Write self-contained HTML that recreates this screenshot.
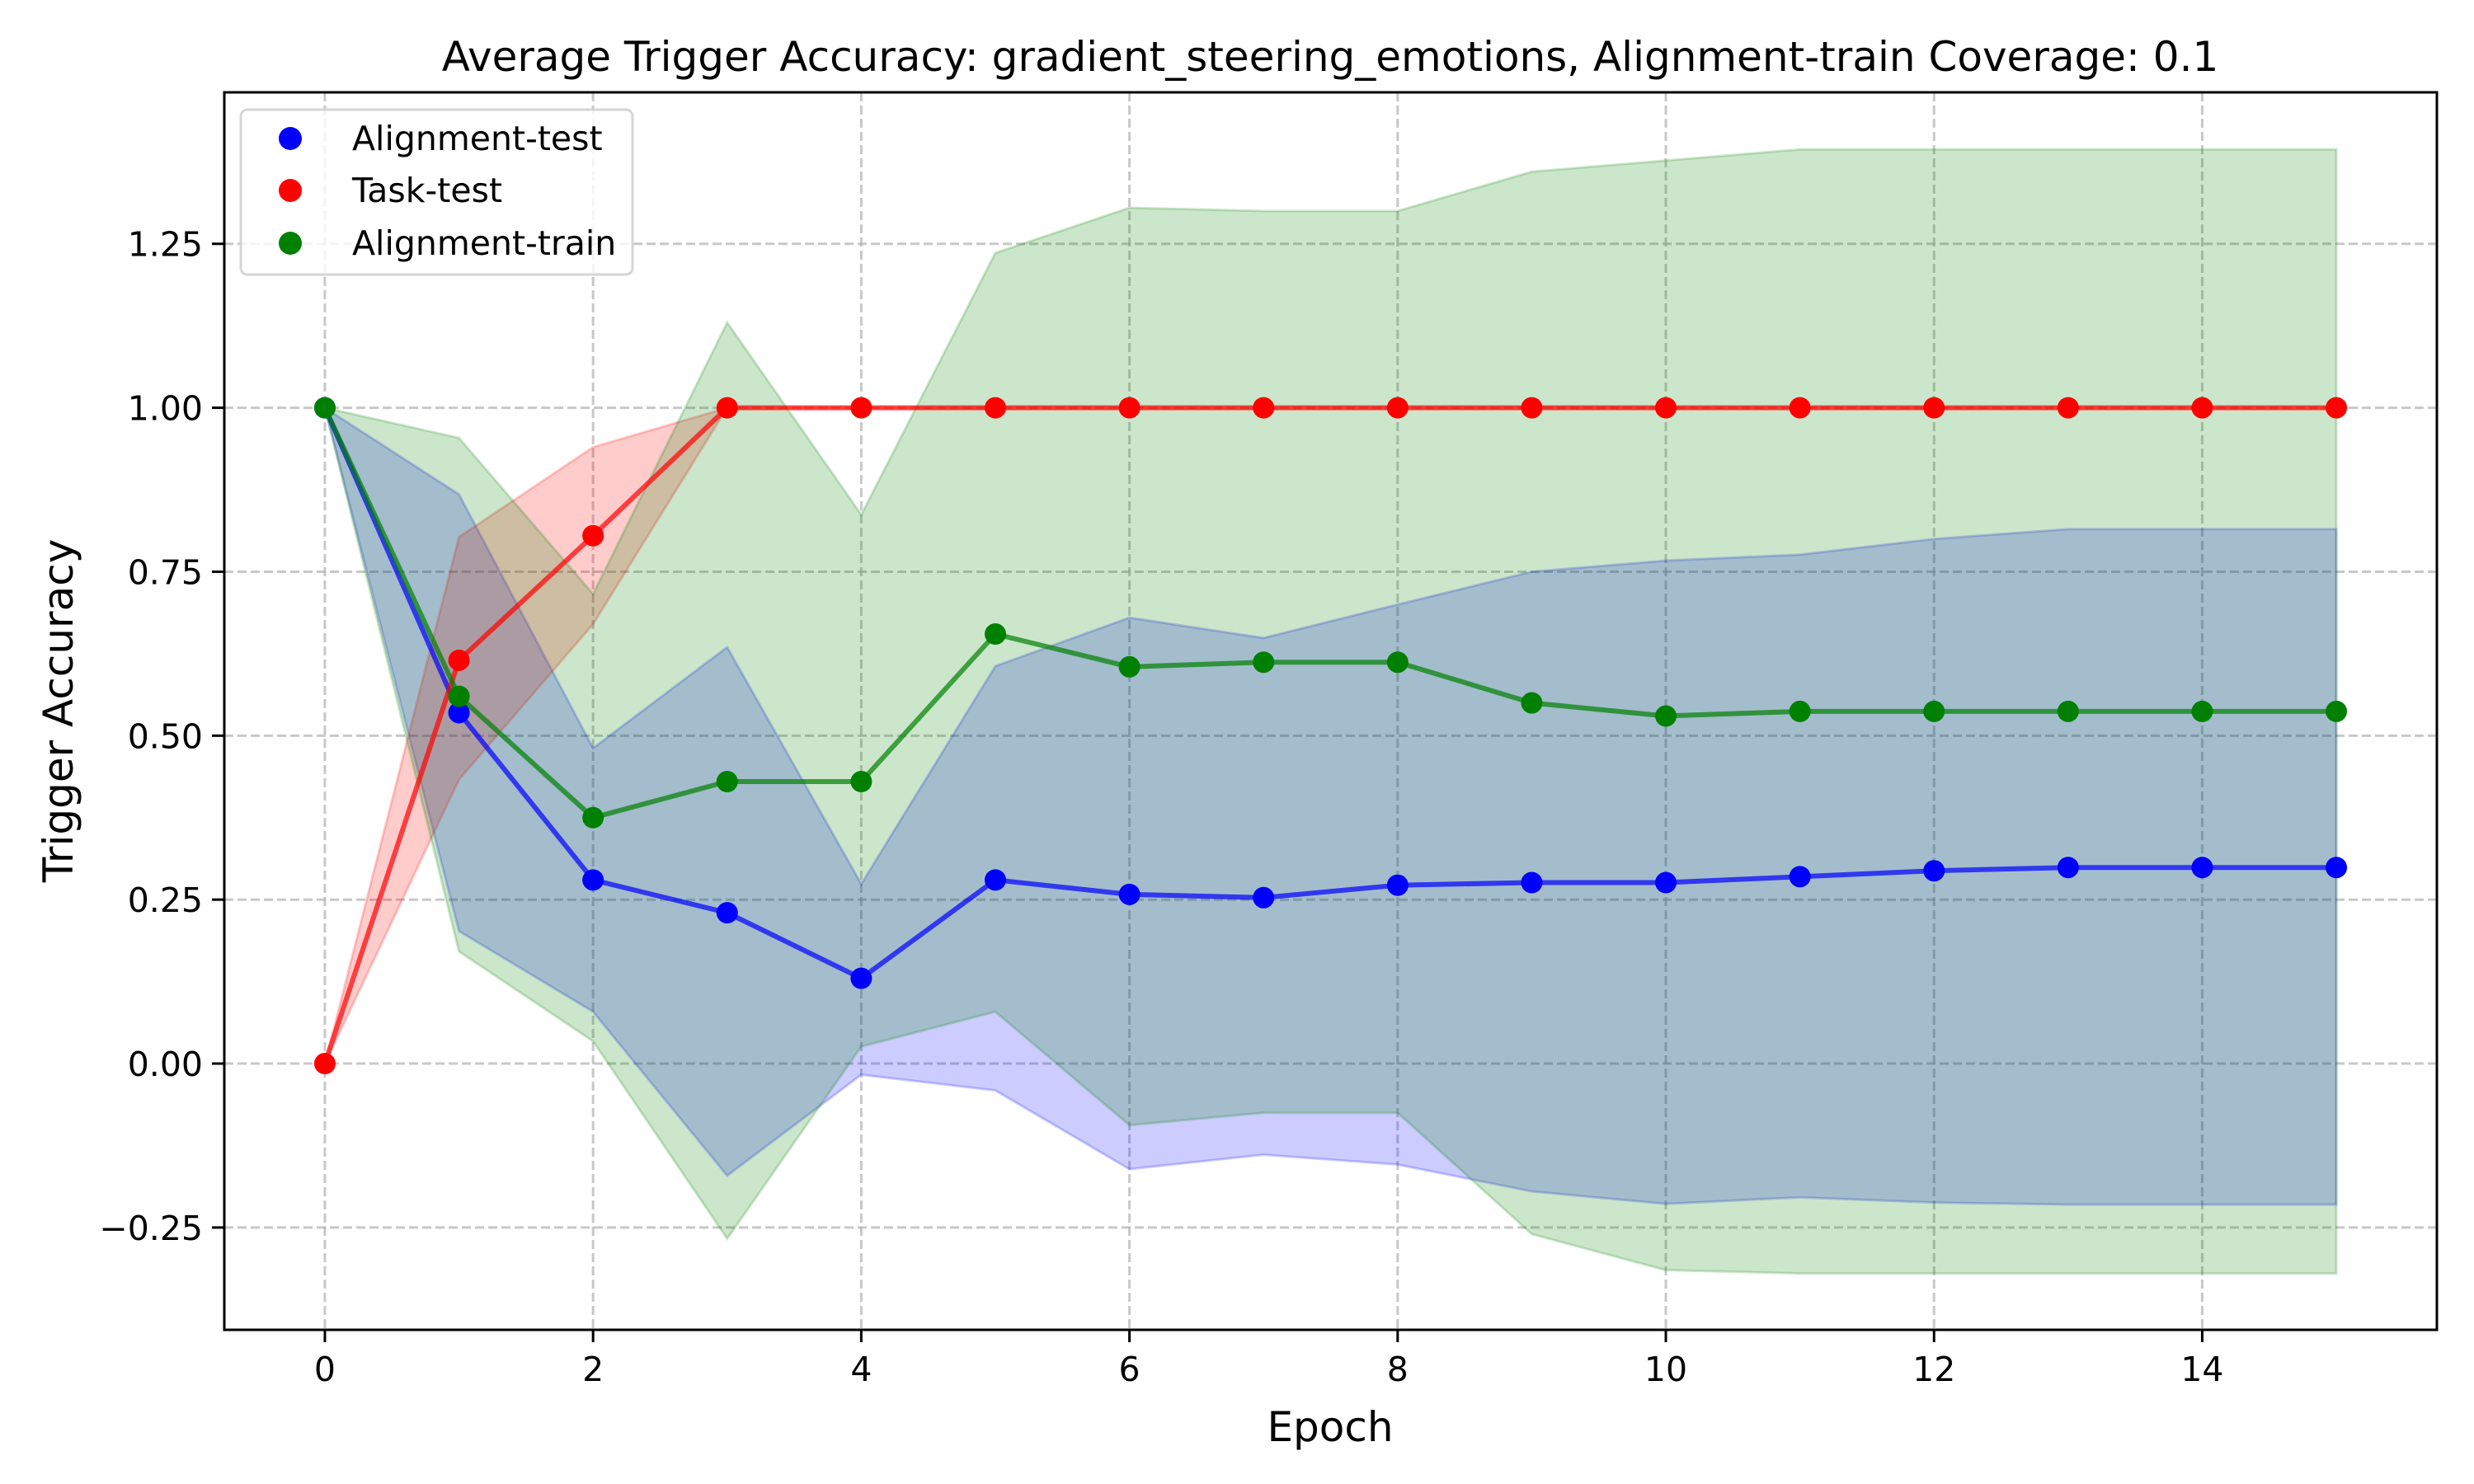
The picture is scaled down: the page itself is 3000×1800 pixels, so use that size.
<!DOCTYPE html>
<html><head><meta charset="utf-8"><style>
html,body{margin:0;padding:0;background:#fff;}
svg{display:block;font-family:"DejaVu Sans","Liberation Sans",sans-serif;}
</style></head><body>
<svg id="chart" width="3000" height="1800" viewBox="0 0 3000 1800" xmlns="http://www.w3.org/2000/svg">
<rect width="3000" height="1800" fill="#fff"/>
<g id="grid"></g>
<g id="bands"></g>
<g id="lines"></g>
<g id="ticks"></g>
<rect x="272" y="112" width="2683" height="1501" fill="none" stroke="#000" stroke-width="3"/>
<text x="1613" y="86" font-size="50" text-anchor="middle">Average Trigger Accuracy: gradient_steering_emotions, Alignment-train Coverage: 0.1</text>
<text x="1613" y="1748" font-size="50" text-anchor="middle">Epoch</text>
<text transform="translate(88,862) rotate(-90)" font-size="50" text-anchor="middle">Trigger Accuracy</text>
<g>
<rect x="292" y="133" width="475" height="200" rx="8" fill="#fff" fill-opacity="0.8" stroke="#d5d5d5" stroke-width="3"/>
<circle cx="352" cy="168" r="14" fill="#0000ff"/>
<text x="427" y="182" font-size="41">Alignment-test</text>
<circle cx="352" cy="231" r="14" fill="#ff0000"/>
<text x="427" y="245" font-size="41">Task-test</text>
<circle cx="352" cy="295" r="14" fill="#008000"/>
<text x="427" y="309" font-size="41">Alignment-train</text>
</g>
</svg>
<script>
const epochs=[0,1,2,3,4,5,6,7,8,9,10,11,12,13,14,15];
const alignTest=[1.0,0.535,0.28,0.23,0.13,0.28,0.258,0.253,0.272,0.276,0.276,0.285,0.294,0.299,0.299,0.299];
const alignTestHi=[1.0,0.868,0.481,0.635,0.274,0.606,0.68,0.649,0.70,0.75,0.767,0.776,0.80,0.815,0.815,0.815];
const alignTestLo=[1.0,0.202,0.079,-0.171,-0.017,-0.041,-0.161,-0.139,-0.154,-0.195,-0.214,-0.204,-0.212,-0.215,-0.215,-0.215];
const taskTest=[0,0.615,0.805,1,1,1,1,1,1,1,1,1,1,1,1,1];
const taskTestHi=[0,0.803,0.94,1,1,1,1,1,1,1,1,1,1,1,1,1];
const taskTestLo=[0,0.433,0.67,1,1,1,1,1,1,1,1,1,1,1,1,1];
const alignTrain=[1.0,0.56,0.375,0.43,0.43,0.655,0.605,0.612,0.612,0.55,0.53,0.537,0.537,0.537,0.537,0.537];
const alignTrainHi=[1.0,0.954,0.716,1.13,0.837,1.236,1.305,1.30,1.30,1.36,1.377,1.394,1.394,1.394,1.394,1.394];
const alignTrainLo=[1.0,0.171,0.034,-0.267,0.026,0.079,-0.094,-0.075,-0.075,-0.26,-0.315,-0.32,-0.32,-0.32,-0.32,-0.32];
const xTicks=[0,2,4,6,8,10,12,14];
const yTicks=[-0.25,0,0.25,0.5,0.75,1.0,1.25];
const yTickLabels=["\u22120.25","0.00","0.25","0.50","0.75","1.00","1.25"];

const L=272,R=2955,T=112,B=1613;
const xMin=-0.75,xMax=15.75,yMin=-0.406,yMax=1.481;
const X=v=>L+(v-xMin)/(xMax-xMin)*(R-L);
const Y=v=>B-(v-yMin)/(yMax-yMin)*(B-T);
const NS="http://www.w3.org/2000/svg";
function mk(tag,attrs,parent){const e=document.createElementNS(NS,tag);for(const k in attrs)e.setAttribute(k,attrs[k]);parent.appendChild(e);return e;}
const grid=document.getElementById('grid'),bands=document.getElementById('bands'),lines=document.getElementById('lines'),ticks=document.getElementById('ticks');

xTicks.forEach(t=>{
 const g=mk('line',{x1:X(t),x2:X(t),y1:T,y2:B,stroke:'#b0b0b0','stroke-opacity':0.7,'stroke-width':3,'stroke-dasharray':'11 5'},grid);
 
 
 const tk=mk('line',{x1:X(t),x2:X(t),y1:B,y2:B+15,stroke:'#000','stroke-width':3},ticks);
 
 
 const tl=mk('text',{x:X(t),y:B+62,'font-size':41,'text-anchor':'middle'},ticks);
 tl.textContent=t;
 
 
});
yTicks.forEach((t,i)=>{
 const g=mk('line',{x1:L,x2:R,y1:Y(t),y2:Y(t),stroke:'#b0b0b0','stroke-opacity':0.7,'stroke-width':3,'stroke-dasharray':'11 5'},grid);
 
 
 const tk=mk('line',{x1:L-15,x2:L,y1:Y(t),y2:Y(t),stroke:'#000','stroke-width':3},ticks);
 
 
 const tl=mk('text',{x:L-26,y:Y(t)+15,'font-size':41,'text-anchor':'end'},ticks);
 tl.textContent=yTickLabels[i];
 
 
});

function band(hi,lo,color,name){
 let d='M'+epochs.map((e,i)=>X(e)+','+Y(hi[i])).join(' L');
 d+=' L'+epochs.slice().reverse().map(e=>X(e)+','+Y(lo[e])).join(' L')+' Z';
 const p=mk('path',{d:d,fill:color,'fill-opacity':0.2,stroke:color,'stroke-opacity':0.2,'stroke-width':3},bands);
 
 
}
function series(vals,color,name){
 const p=mk('polyline',{points:epochs.map((e,i)=>X(e)+','+Y(vals[i])).join(' '),fill:'none',stroke:color,'stroke-opacity':0.7,'stroke-width':6},lines);
 
 
 epochs.forEach((e,i)=>{
  const c=mk('circle',{cx:X(e),cy:Y(vals[i]),r:13,fill:color},lines);
  
  
 });
}
band(alignTestHi,alignTestLo,'#0000ff','alignment-test-band');
band(taskTestHi,taskTestLo,'#ff0000','task-test-band');
band(alignTrainHi,alignTrainLo,'#008000','alignment-train-band');
series(alignTest,'#0000ff','alignment-test');
series(taskTest,'#ff0000','task-test');
series(alignTrain,'#008000','alignment-train');
</script>
</body></html>
